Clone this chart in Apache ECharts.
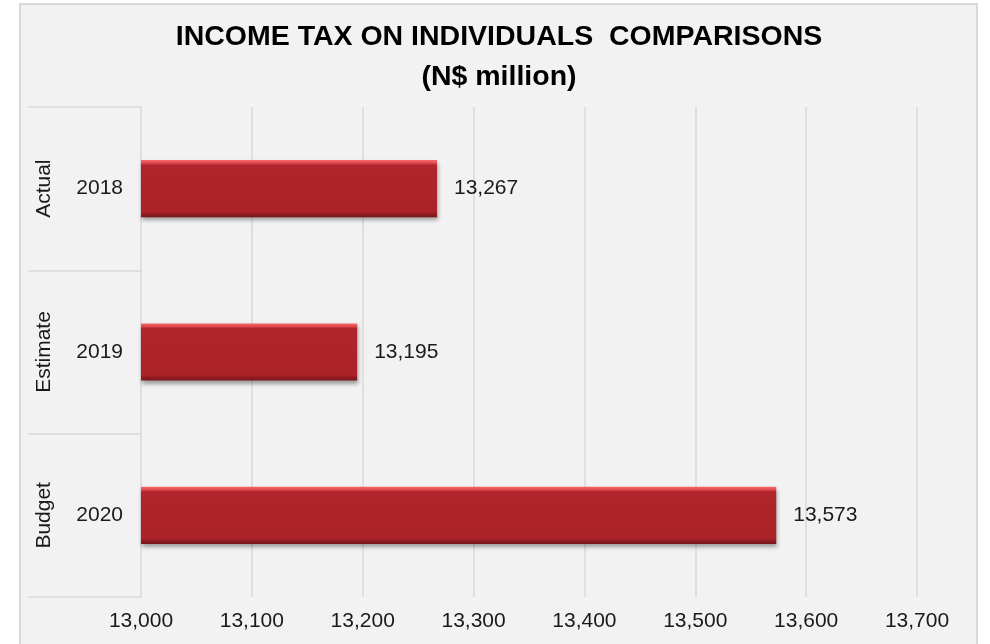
<!DOCTYPE html>
<html>
<head>
<meta charset="utf-8">
<script src="https://cdn.jsdelivr.net/npm/echarts@6/dist/echarts.min.js"></script>
<style>
  html, body { margin: 0; padding: 0; width: 990px; height: 644px; overflow: hidden; background: #ffffff; }
  #panel { position: absolute; left: 19px; top: 3px; width: 955px; height: 660px;
           background: #f2f2f2; border: 2px solid #d9d9d9; border-bottom: none; }
  #chart { position: absolute; left: 0; top: 0; width: 990px; height: 644px; }
</style>
</head>
<body>
<div id="panel"></div>
<div id="chart"></div>
<script>
// Income tax on individuals, N$ million
const years = ['2018', '2019', '2020'];
const groups = ['Actual', 'Estimate', 'Budget'];
const values = [13267, 13195, 13573];
const axisMin = 13000;
const axisMax = 13700;
const axisStep = 100;

const fmt = v => Number(v).toLocaleString('en-US');
const font = 'Liberation Sans, Arial, sans-serif';
const textColor = '#1a1a1a';
const lineColor = '#d9d9d9';

const chart = echarts.init(document.getElementById('chart'), null, { renderer: 'canvas' });

chart.setOption({
  backgroundColor: 'transparent',
  animation: false,
  title: {
    text: 'INCOME TAX ON INDIVIDUALS  COMPARISONS\n(N$ million)',
    left: 494,
    top: 12,
    textAlign: 'center',
    textStyle: {
      fontFamily: font,
      fontWeight: 'bold',
      fontSize: 28.5,
      lineHeight: 40,
      color: '#000000'
    }
  },
  grid: { left: 141, right: 73, top: 107, bottom: 47, containLabel: false },
  xAxis: {
    type: 'value',
    min: axisMin,
    max: axisMax,
    interval: axisStep,
    axisLine: { show: false },
    axisTick: { show: false },
    axisLabel: {
      margin: 14,
      fontFamily: font,
      fontSize: 21,
      color: textColor,
      formatter: v => fmt(v)
    },
    splitLine: { show: true, lineStyle: { color: lineColor, width: 1.5 } }
  },
  yAxis: [
    {
      type: 'category',
      data: years,
      inverse: true,
      axisLine: { show: false },
      axisTick: { show: true, length: 113, lineStyle: { color: lineColor, width: 1.5 } },
      axisLabel: { margin: 18, fontFamily: font, fontSize: 21, color: textColor }
    },
    {
      type: 'category',
      data: groups,
      inverse: true,
      position: 'left',
      axisLine: { show: false },
      axisTick: { show: false },
      axisLabel: { rotate: 90, margin: 86, fontFamily: font, fontSize: 21, color: textColor }
    }
  ],
  series: [
    {
      type: 'bar',
      yAxisIndex: 0,
      data: values,
      barWidth: '35%',
      itemStyle: {
        color: new echarts.graphic.LinearGradient(0, 0, 0, 1, [
          { offset: 0, color: '#f26a6a' },
          { offset: 0.05, color: '#e14a4f' },
          { offset: 0.09, color: '#b0252b' },
          { offset: 0.9, color: '#ab2228' },
          { offset: 0.95, color: '#8e1c21' },
          { offset: 1, color: '#741519' }
        ]),
        shadowColor: 'rgba(0,0,0,0.35)',
        shadowBlur: 4,
        shadowOffsetY: 3,
        shadowOffsetX: 1
      },
      label: {
        show: true,
        position: 'right',
        distance: 17,
        fontFamily: font,
        fontSize: 21,
        color: textColor,
        formatter: p => fmt(p.value)
      }
    }
  ]
});
</script>
</body>
</html>
